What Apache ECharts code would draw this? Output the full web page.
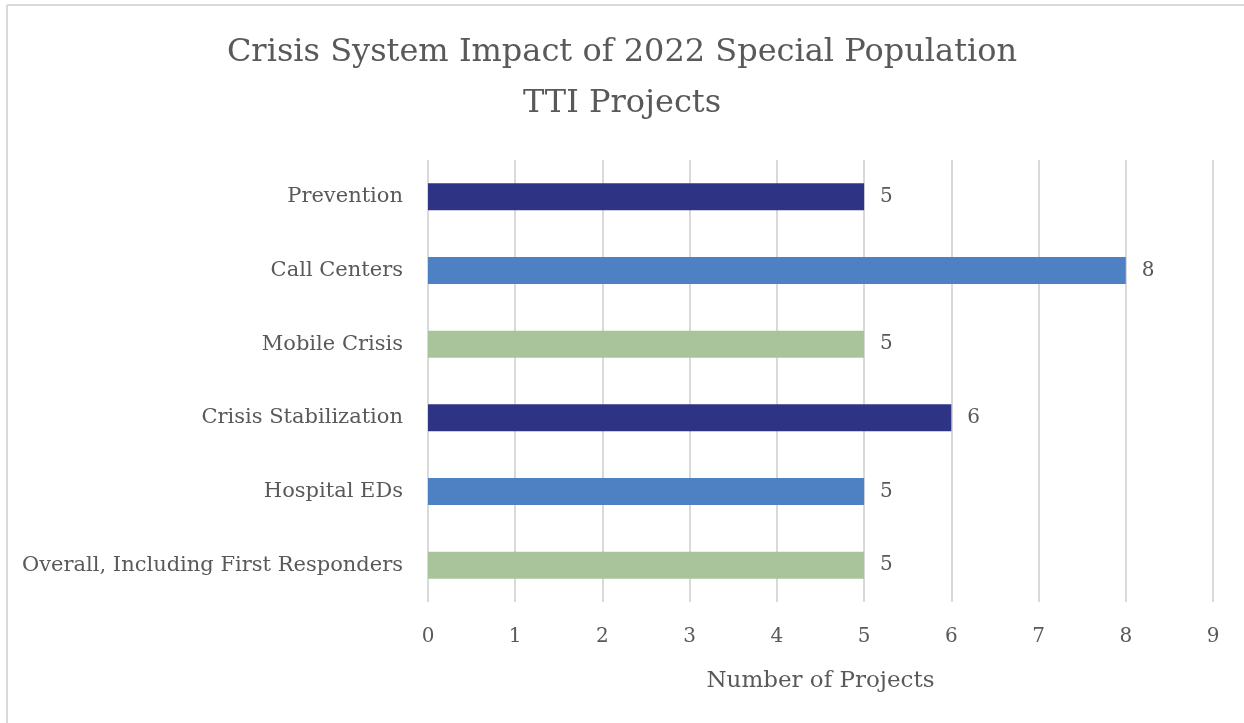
<!DOCTYPE html>
<html>
<head>
<meta charset="utf-8">
<title>Crisis System Impact of 2022 Special Population TTI Projects</title>
<script src="https://cdn.jsdelivr.net/npm/echarts@6/dist/echarts.min.js"></script>
<style>
  html, body { margin: 0; padding: 0; background: #ffffff; }
  #chart { width: 1244px; height: 723px; }
</style>
</head>
<body>
<div id="chart"></div>
<script>
// Crisis system areas and the number of TTI projects touching each
const categories = [
  'Prevention',
  'Call Centers',
  'Mobile Crisis',
  'Crisis Stabilization',
  'Hospital EDs',
  'Overall, Including First Responders'
];
const projectCounts = [5, 8, 5, 6, 5, 5];
const xTicks = [0, 1, 2, 3, 4, 5, 6, 7, 8, 9];

// Repeating bar palette: navy, blue, sage green
const palette = ['#2E3383', '#4E81C3', '#A9C49A'];
const serif = '"Palatino Linotype", "Book Antiqua", Palatino, "DejaVu Serif", serif';
const textGray = '#595959';

const chart = echarts.init(document.getElementById('chart'), null, { renderer: 'canvas' });

chart.setOption({
  backgroundColor: '#ffffff',
  animation: false,
  title: {
    text: 'Crisis System Impact of 2022 Special Population\nTTI Projects',
    left: 'center',
    top: 22,
    textStyle: {
      fontFamily: serif,
      fontWeight: 'normal',
      fontSize: 32,
      lineHeight: 51,
      color: textGray
    }
  },
  graphic: [
    { type: 'line', shape: { x1: 7, y1: 5, x2: 7, y2: 723 }, style: { stroke: '#d9d9d9', lineWidth: 2 } },
    { type: 'line', shape: { x1: 7, y1: 5, x2: 1244, y2: 5 }, style: { stroke: '#d9d9d9', lineWidth: 2 } }
  ],
  grid: { left: 428, right: 31, top: 160, bottom: 121, containLabel: false },
  xAxis: {
    type: 'value',
    min: xTicks[0],
    max: xTicks[xTicks.length - 1],
    interval: 1,
    name: 'Number of Projects',
    nameLocation: 'middle',
    nameGap: 68,
    nameTextStyle: { fontFamily: serif, fontSize: 23, color: textGray },
    axisLine: { show: false },
    axisTick: { show: false },
    axisLabel: { margin: 25, fontFamily: serif, fontSize: 20, color: textGray },
    splitLine: { show: true, lineStyle: { color: '#d9d9d9', width: 2 } }
  },
  yAxis: {
    type: 'category',
    data: categories,
    inverse: true,
    axisLine: { show: false },
    axisTick: { show: false },
    axisLabel: { margin: 25, fontFamily: serif, fontSize: 21, color: textGray }
  },
  series: [{
    type: 'bar',
    barWidth: 27,
    data: projectCounts.map((v, i) => ({
      value: v,
      itemStyle: { color: palette[i % palette.length] }
    })),
    label: {
      show: true,
      position: 'right',
      distance: 16,
      fontFamily: serif,
      fontSize: 20,
      color: textGray
    }
  }]
});
</script>
</body>
</html>
